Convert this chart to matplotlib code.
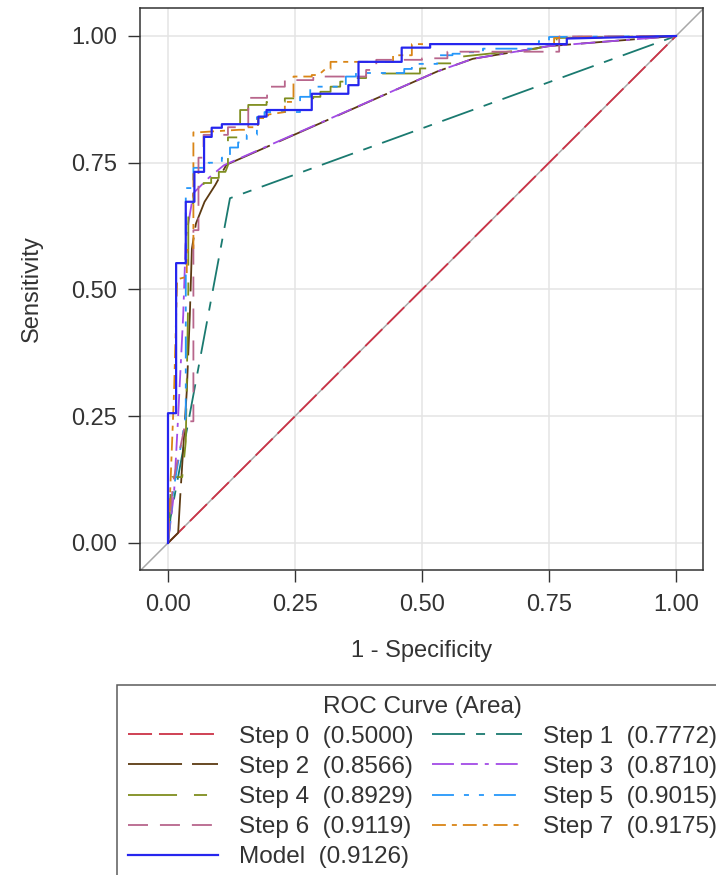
import matplotlib
matplotlib.use("Agg")
import matplotlib.pyplot as plt

# ROC curves, one per selection step (1 - specificity, sensitivity)
step0_fpr = [0.0, 1.0]
step0_tpr = [0.0, 1.0]

step1_fpr = [0.0, 0.005, 0.122, 1.0]
step1_tpr = [0.0, 0.05, 0.68, 1.0]

step2_fpr = [0.0, 0.02, 0.024, 0.037, 0.043, 0.047, 0.055, 0.072, 0.093, 0.115, 0.53, 0.60, 0.75, 1.0]
step2_tpr = [0.0, 0.02, 0.09, 0.30, 0.45, 0.58, 0.63, 0.673, 0.706, 0.746, 0.93, 0.955, 0.98, 1.0]

step3_fpr = [0.0, 0.012, 0.02, 0.03, 0.035, 0.05, 0.08, 0.11, 0.53, 0.60, 0.75, 1.0]
step3_tpr = [0.0, 0.10, 0.25, 0.45, 0.60, 0.69, 0.72, 0.745, 0.93, 0.955, 0.98, 1.0]

step4_fpr = [0.0, 0.005, 0.008, 0.028, 0.035, 0.04, 0.04, 0.05, 0.05, 0.06, 0.06, 0.07, 0.07, 0.085,
             0.085, 0.10, 0.10, 0.113, 0.118, 0.118, 0.142, 0.142, 0.158, 0.158, 0.194, 0.194, 0.23,
             0.23, 0.286, 0.286, 0.30, 0.30, 0.32, 0.32, 0.339, 0.339, 0.358, 0.358, 0.39, 0.39, 0.496,
             0.496, 0.53, 0.53, 0.56, 0.56, 0.575, 0.64, 0.726, 0.765, 0.765, 1.0]
step4_tpr = [0.0, 0.10, 0.13, 0.13, 0.20, 0.50, 0.67, 0.67, 0.69, 0.69, 0.70, 0.70, 0.71, 0.71,
             0.72, 0.72, 0.732, 0.732, 0.745, 0.80, 0.80, 0.854, 0.854, 0.864, 0.864, 0.870, 0.870,
             0.877, 0.877, 0.880, 0.880, 0.890, 0.890, 0.900, 0.900, 0.910, 0.910, 0.917, 0.917, 0.926, 0.926,
             0.936, 0.936, 0.946, 0.946, 0.955, 0.959, 0.966, 0.975, 0.99, 0.996, 1.0]

step5_fpr = [0.0, 0.01, 0.035, 0.035, 0.05, 0.05, 0.08, 0.08, 0.106, 0.106, 0.122, 0.122, 0.138, 0.138,
             0.155, 0.155, 0.175, 0.175, 0.19, 0.19, 0.26, 0.26, 0.28, 0.28, 0.35, 0.35, 0.37, 0.37,
             0.465, 0.465, 0.48, 0.48, 0.53, 0.53, 0.56, 0.56, 0.59, 0.59, 0.62, 0.62, 0.73, 0.73,
             0.75, 0.75, 1.0]
step5_tpr = [0.0, 0.10, 0.25, 0.70, 0.70, 0.74, 0.74, 0.75, 0.75, 0.76, 0.76, 0.78, 0.78, 0.79,
             0.79, 0.805, 0.805, 0.84, 0.84, 0.85, 0.85, 0.88, 0.88, 0.90, 0.90, 0.92, 0.92, 0.927,
             0.927, 0.935, 0.935, 0.945, 0.945, 0.962, 0.962, 0.965, 0.965, 0.968, 0.968, 0.975, 0.975, 0.99,
             0.99, 0.998, 1.0]

step6_fpr = [0.0, 0.01, 0.035, 0.05, 0.05, 0.06, 0.06, 0.07, 0.07, 0.118, 0.118, 0.158, 0.158, 0.195,
             0.195, 0.23, 0.23, 0.286, 0.286, 0.39, 0.39, 0.41, 0.41, 0.50, 0.50, 0.55, 0.55, 0.77,
             0.77, 1.0]
step6_tpr = [0.0, 0.12, 0.24, 0.24, 0.617, 0.617, 0.76, 0.76, 0.805, 0.805, 0.82, 0.82, 0.878, 0.878,
             0.90, 0.90, 0.913, 0.913, 0.92, 0.92, 0.933, 0.933, 0.953, 0.953, 0.956, 0.956, 0.969, 0.969,
             0.999, 1.0]

step7_fpr = [0.0, 0.005, 0.012, 0.018, 0.037, 0.037, 0.05, 0.05, 0.06, 0.14, 0.157, 0.157, 0.177, 0.177,
             0.197, 0.197, 0.23, 0.23, 0.247, 0.247, 0.283, 0.283, 0.296, 0.31, 0.32, 0.32, 0.443, 0.443,
             0.48, 0.48, 0.76, 0.76, 1.0]
step7_tpr = [0.0, 0.12, 0.30, 0.52, 0.525, 0.578, 0.578, 0.81, 0.81, 0.815, 0.815, 0.82, 0.82, 0.838,
             0.838, 0.845, 0.85, 0.87, 0.87, 0.92, 0.92, 0.923, 0.923, 0.935, 0.935, 0.949, 0.949, 0.962,
             0.962, 0.984, 0.984, 0.996, 1.0]

model_fpr = [0.0, 0.0, 0.016, 0.016, 0.035, 0.035, 0.052, 0.052, 0.071, 0.071, 0.086, 0.086, 0.106, 0.106,
             0.178, 0.178, 0.194, 0.194, 0.283, 0.283, 0.355, 0.355, 0.375, 0.375, 0.46, 0.46, 0.516,
             0.516, 0.785, 0.785, 1.0]
model_tpr = [0.0, 0.256, 0.256, 0.552, 0.552, 0.673, 0.673, 0.732, 0.732, 0.801, 0.801, 0.819, 0.819, 0.826,
             0.826, 0.841, 0.841, 0.854, 0.854, 0.886, 0.886, 0.903, 0.903, 0.949, 0.949, 0.977, 0.977,
             0.984, 0.984, 0.995, 1.0]

curve_names = ["Step 0", "Step 1", "Step 2", "Step 3", "Step 4", "Step 5", "Step 6", "Step 7", "Model"]
curve_areas = [0.5000, 0.7772, 0.8566, 0.8710, 0.8929, 0.9015, 0.9119, 0.9175, 0.9126]
tick_values = [0.0, 0.25, 0.5, 0.75, 1.0]

plt.rcParams["font.family"] = ["Liberation Sans", "DejaVu Sans"]
plt.rcParams["lines.scale_dashes"] = False

TXT = "#333333"
FS = 17
LEG_FS = 17.5

# (colour, dash pattern in points, line width) -- None means solid
styles = [
	("#CC3347", (17.3, 5.0), 1.3),
	("#1A7A70", (23.8, 7.9, 6.5, 7.9), 1.3),
	("#5C3A12", (38.9, 7.2), 1.3),
	("#A24BE6", (15.8, 5.0, 12.2, 5.0, 2.9, 5.0), 1.3),
	("#7F8E1F", (35.3, 12.2, 9.4, 12.2), 1.3),
	("#2597FA", (15.8, 7.2, 3.6, 7.2, 3.6, 7.2), 1.3),
	("#B8668C", (14.4, 8.6), 1.3),
	("#D98516", (10.0, 4.3, 3.6, 4.3), 1.3),
	("#2626EE", None, 1.6),
]

curves = [
	(step0_fpr, step0_tpr), (step1_fpr, step1_tpr), (step2_fpr, step2_tpr),
	(step3_fpr, step3_tpr), (step4_fpr, step4_tpr), (step5_fpr, step5_tpr),
	(step6_fpr, step6_tpr), (step7_fpr, step7_tpr), (model_fpr, model_tpr),
]

fig = plt.figure(figsize=(7.16, 8.75), dpi=100)
ax = fig.add_axes([140 / 716, 1 - 570 / 875, 563 / 716, 562 / 875])

# chance line goes corner to corner
ax.axline((0, 0), (1, 1), color="#a8a8a8", linewidth=1.1, zorder=1)

handles = []
for (fpr, tpr), (col, dash, lw), name, area in zip(curves, styles, curve_names, curve_areas):
	line, = ax.plot(fpr, tpr, color=col, linewidth=lw, zorder=2,
		label="%s  (%.4f)" % (name, area))
	if dash is not None:
		line.set_dashes(dash)
	handles.append(line)

ax.set_xlim(-0.0551, 1.0531)
ax.set_ylim(-0.0533, 1.0552)
ax.set_xticks(tick_values)
ax.set_yticks(tick_values)
ax.set_xticklabels(["%.2f" % v for v in tick_values])
ax.set_yticklabels(["%.2f" % v for v in tick_values])
ax.grid(True, color="#e4e4e4", linewidth=1.1, zorder=0)
ax.set_axisbelow(True)

for sp in ax.spines.values():
	sp.set_color(TXT)
	sp.set_linewidth(1.1)
ax.tick_params(axis="both", direction="out", length=8.6, width=1.0, color=TXT,
	labelsize=FS, labelcolor=TXT)
ax.tick_params(axis="x", pad=9)
ax.tick_params(axis="y", pad=8)

ax.set_xlabel("1 - Specificity", fontsize=FS, color=TXT, labelpad=17)
ax.set_ylabel("Sensitivity", fontsize=FS, color=TXT, labelpad=20)

# legend filled column-wise: left column gets the even steps and the model
order = [0, 2, 4, 6, 8, 1, 3, 5, 7]
leg = fig.legend([handles[i] for i in order], [handles[i].get_label() for i in order],
	ncol=2, loc="upper left", bbox_to_anchor=(117 / 716, 1 - 685 / 875),
	borderaxespad=0, title="ROC Curve (Area)", fontsize=LEG_FS, title_fontsize=LEG_FS,
	handlelength=3.7, handletextpad=0.85, columnspacing=0.8, labelspacing=0.33,
	borderpad=0.45, fancybox=False, frameon=True)
leg.get_frame().set_edgecolor(TXT)
leg.get_frame().set_linewidth(1.1)
for t in leg.get_texts():
	t.set_color(TXT)
leg.get_title().set_color(TXT)

fig.savefig("out.png", dpi=100)
